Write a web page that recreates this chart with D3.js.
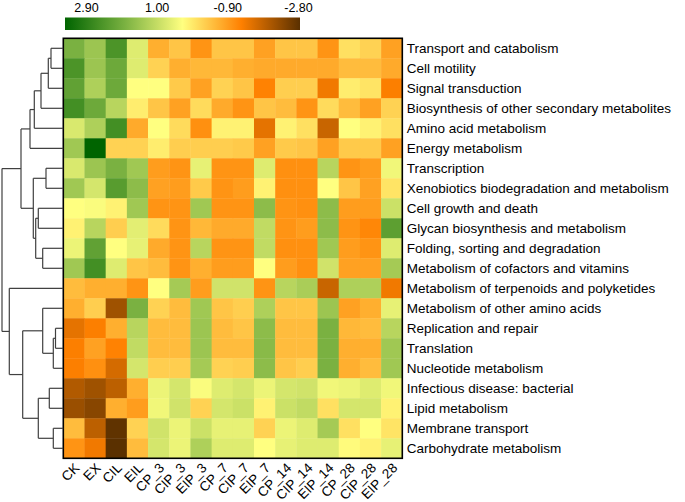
<!DOCTYPE html>
<html>
<head>
<meta charset="utf-8">
<script src="https://cdn.jsdelivr.net/npm/d3@7/dist/d3.min.js"></script>
<style>
  html, body { margin: 0; padding: 0; background: #fff; }
  svg { display: block; }
  text { font-family: Arial, "Liberation Sans", sans-serif; fill: #000; }
</style>
</head>
<body>
<svg id="chart" width="685" height="502"></svg>
<script>
const rowLabels = [
  "Transport and catabolism", "Cell motility", "Signal transduction",
  "Biosynthesis of other secondary metabolites", "Amino acid metabolism",
  "Energy metabolism", "Transcription", "Xenobiotics biodegradation and metabolism",
  "Cell growth and death", "Glycan biosynthesis and metabolism",
  "Folding, sorting and degradation", "Metabolism of cofactors and vitamins",
  "Metabolism of terpenoids and polyketides", "Metabolism of other amino acids",
  "Replication and repair", "Translation", "Nucleotide metabolism",
  "Infectious disease: bacterial", "Lipid metabolism", "Membrane transport",
  "Carbohydrate metabolism"
];
const colLabels = ["CK","EX","CIL","EIL","CP_3","CIP_3","EIP_3","CP_7","CIP_7","EIP_7",
  "CP_14","CIP_14","EIP_14","CP_28","CIP_28","EIP_28"];

const values = [
  [1.45, 1.1, 2.0, 0.4, -0.85, -0.6, -1.15, -0.6, -0.6, -1.0, -0.6, -0.6, -1.15, -0.3, -0.45, -1.0],
  [2.0, 1.1, 1.6, 0.4, -0.45, -0.85, -0.75, -0.75, -0.85, -0.9, -0.9, -0.9, -0.9, -0.7, -0.7, -0.9],
  [1.75, 0.9, 1.6, 0.05, 0.05, -0.55, -1.0, -0.45, -0.6, -1.35, -0.5, -0.5, -1.5, -0.15, -0.25, -1.4],
  [2.1, 1.6, 0.8, -0.15, -0.6, -1.0, -0.35, -0.9, -1.15, -0.6, -0.7, -1.15, -0.35, -0.7, -1.0, -0.45],
  [0.45, 0.9, 2.1, -0.9, 0.05, -0.35, -1.2, -0.1, -0.1, -1.6, -0.1, -0.3, -1.85, 0.05, -0.1, -0.3],
  [1.05, 2.9, -0.45, -0.45, -0.15, -0.5, -0.5, -0.5, -0.55, -1.0, -0.55, -0.6, -1.0, -0.55, -0.55, -1.0],
  [0.45, 1.1, 1.45, 1.05, -1.05, -1.15, 0.3, -1.15, -1.15, 0.4, -1.2, -1.2, 0.8, -1.15, -1.05, 0.2],
  [1.05, 0.5, 1.85, 1.25, -1.0, -1.05, -0.55, -1.15, -1.05, -0.1, -1.2, -1.2, 0.05, -0.6, -1.0, -0.25],
  [0.05, 0.1, -0.1, 1.05, -1.15, -1.15, 1.05, -1.15, -1.15, 1.25, -1.15, -1.2, 1.25, -1.05, -1.05, 0.6],
  [-0.1, 0.8, -0.5, 0.35, -0.35, -1.15, -0.75, -0.9, -0.9, 0.7, -1.15, -1.05, 1.25, -1.15, -1.3, 1.8],
  [0.25, 1.75, 0.05, 0.3, -0.9, -1.15, 0.8, -1.15, -1.15, 0.7, -1.2, -1.2, 1.05, -1.05, -1.15, 0.4],
  [1.05, 2.1, 0.4, -0.6, -0.7, -1.15, -0.85, -1.05, -1.05, 0.05, -1.05, -1.2, 0.55, -1.0, -1.0, 1.0],
  [-0.7, -0.85, -0.85, -1.15, 0.05, 1.0, -1.05, 0.55, 0.55, -1.15, 0.8, 0.95, -1.85, 0.9, 0.9, -1.5],
  [-0.85, -0.5, -2.2, 1.45, -0.45, -0.7, 1.05, -0.6, -0.5, 0.9, -0.6, -0.6, 1.1, -1.0, -0.85, 0.3],
  [-1.6, -1.4, -0.85, 0.8, -0.7, -0.7, 1.1, -0.7, -0.6, 1.25, -0.7, -0.7, 1.45, -0.75, -0.7, 0.8],
  [-1.4, -1.0, -1.35, 0.7, -0.7, -0.7, 1.1, -0.7, -0.7, 1.3, -0.7, -0.7, 1.45, -0.85, -0.85, 1.05],
  [-1.4, -1.2, -1.75, 0.5, -0.5, -0.5, 1.0, -0.45, -0.5, 1.25, -0.6, -0.5, 1.45, -0.85, -0.7, 1.05],
  [-2.05, -2.2, -1.95, -0.85, 0.25, 0.5, 0.1, 0.4, 0.5, 0.25, 0.5, 0.55, 0.2, 0.25, 0.4, 0.2],
  [-2.25, -2.4, -0.85, -1.05, 0.2, 0.55, -0.45, 0.5, 0.6, -0.1, 0.6, 0.7, -0.3, 0.5, 0.5, -0.1],
  [-0.7, -1.95, -2.75, -0.45, 0.55, 0.25, 0.6, 0.3, 0.3, -0.45, 0.25, 0.4, 1.0, -0.3, 0.05, -0.25],
  [-1.15, -1.5, -2.8, -0.7, 0.5, 0.25, 0.9, 0.4, 0.4, 0.05, 0.3, 0.4, 0.4, 0.0, -0.1, 0.3]
];

const legendTicks = ["2.90", "1.00", "-0.90", "-2.80"];
const colorDomain = [2.9, 1.475, 0.05, -1.375, -2.8];
const colorRange = ["#006400", "#78b040", "#ffff80", "#ff8000", "#5a3000"];

// hclust-style merges: negative = leaf (-(row+1)), positive = merge number (1-based); [a, b, height]
const merges = [
  [-1, -2, 12.3],   // 1
  [1, -3, 15],      // 2
  [2, -4, 22.3],    // 3
  [3, -5, 29],      // 4
  [4, -6, 33.3],    // 5
  [-7, -8, 17.3],   // 6
  [-9, -10, 25],    // 7
  [-11, -12, 20.6], // 8
  [7, 8, 27.6],     // 9
  [6, 9, 30],       // 10
  [5, 10, 42.3],    // 11
  [-15, -16, 7.8],  // 12
  [12, -17, 10],    // 13
  [-14, 13, 20.6],  // 14
  [-18, -19, 14],   // 15
  [-20, -21, 10],   // 16
  [15, 16, 25],     // 17
  [14, 17, 40.6],   // 18
  [-13, 18, 54],    // 19
  [11, 19, 61.3]    // 20
];

(function () {
const svg = d3.select("#chart");
const gLeft = 63.3, gRight = 402.3, gTop = 38.3, gBottom = 458.3;

const x = d3.scaleBand().domain(colLabels).range([gLeft, gRight]);
const y = d3.scaleBand().domain(rowLabels).range([gTop, gBottom]);
const color = d3.scaleLinear().domain(colorDomain).range(colorRange).interpolate(d3.interpolateRgb);

// cells
const cells = [];
values.forEach((row, i) => row.forEach((v, j) => cells.push({r: rowLabels[i], c: colLabels[j], v})));
svg.append("g").selectAll("rect").data(cells).join("rect")
  .attr("x", d => x(d.c)).attr("y", d => y(d.r))
  .attr("width", x.bandwidth() + 0.4).attr("height", y.bandwidth() + 0.4)
  .attr("fill", d => color(d.v));

// frame
svg.append("rect").attr("x", gLeft).attr("y", gTop)
  .attr("width", gRight - gLeft).attr("height", gBottom - gTop)
  .attr("fill", "none").attr("stroke", "#000").attr("stroke-width", 1.6);

// row labels
svg.append("g").selectAll("text").data(rowLabels).join("text")
  .attr("x", gRight + 4.5).attr("y", d => y(d) + y.bandwidth() / 2)
  .attr("dy", "0.36em").attr("font-size", 13.5).text(d => d);

// column labels
svg.append("g").selectAll("text").data(colLabels).join("text")
  .attr("transform", d => `translate(${x(d) + x.bandwidth() / 2 + 6.5},${gBottom + 10.5}) rotate(-45)`)
  .attr("text-anchor", "end").attr("font-size", 13.5).text(d => d);

// dendrogram
const hx = d3.scaleLinear().domain([0, 61.3]).range([gLeft, 2]);
function nodeOf(id) {
  if (id < 0) { const i = -id - 1; return {h: 0, y: y(rowLabels[i]) + y.bandwidth() / 2}; }
  const m = merges[id - 1];
  const a = nodeOf(m[0]), b = nodeOf(m[1]);
  return {h: m[2], y: (a.y + b.y) / 2, children: [a, b]};
}
const root = d3.hierarchy(nodeOf(merges.length));
const segs = [];
root.each(n => {
  if (!n.children) return;
  const xp = hx(n.data.h);
  const [a, b] = n.children;
  segs.push([xp, a.data.y, xp, b.data.y]);
  n.children.forEach(ch => segs.push([xp, ch.data.y, hx(ch.data.h), ch.data.y]));
});
svg.append("g").selectAll("line").data(segs).join("line")
  .attr("x1", d => d[0]).attr("y1", d => d[1]).attr("x2", d => d[2]).attr("y2", d => d[3])
  .attr("stroke", "#404040").attr("stroke-width", 1.2);

// color legend
const lx = d3.scaleLinear().domain([2.9, -2.8]).range([65, 300]);
const defs = svg.append("defs");
const grad = defs.append("linearGradient").attr("id", "lg").attr("x1", "0%").attr("x2", "100%");
d3.range(0, 1.0001, 0.05).forEach(t => {
  const v = 2.9 - t * 5.7;
  grad.append("stop").attr("offset", (t * 100) + "%").attr("stop-color", color(v));
});
svg.append("rect").attr("x", lx(2.9)).attr("y", 17.5).attr("width", lx(-2.8) - lx(2.9)).attr("height", 12.5)
  .attr("fill", "url(#lg)");
const tickPos = d3.scalePoint().domain(legendTicks).range([86.5, 298.5]);
svg.append("g").selectAll("text").data(legendTicks).join("text")
  .attr("x", d => tickPos(d)).attr("y", 12).attr("text-anchor", "middle")
  .attr("font-size", 12.5).text(d => d);
})();
</script>
</body>
</html>
